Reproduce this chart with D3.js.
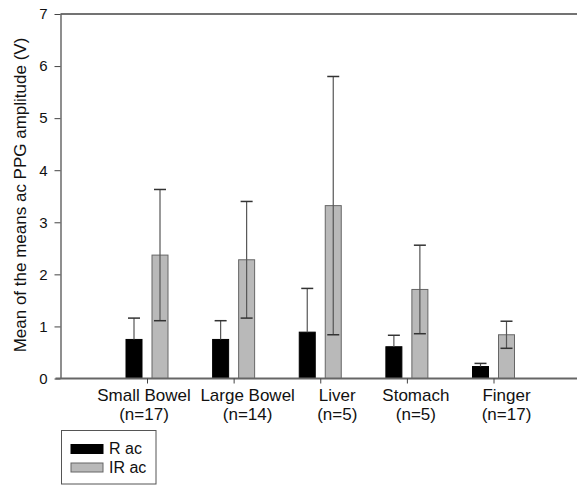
<!DOCTYPE html>
<html>
<head>
<meta charset="utf-8">
<script src="https://cdn.jsdelivr.net/npm/d3@7"></script>
<style>
  body { margin: 0; background: #fff; }
  text { font-family: "Liberation Sans", Arial, sans-serif; fill: #111; }
</style>
</head>
<body>
<div id="chart-area"></div>
<script>
// data
const sites = ["Small Bowel", "Large Bowel", "Liver", "Stomach", "Finger"];
const counts = ["(n=17)", "(n=14)", "(n=5)", "(n=5)", "(n=17)"];
const series = ["R ac", "IR ac"];
const rMean = [0.75, 0.75, 0.89, 0.61, 0.23];
const rErr = [0.41, 0.36, 0.84, 0.22, 0.06];
const irMean = [2.37, 2.28, 3.32, 1.71, 0.84];
const irErr = [1.26, 1.12, 2.48, 0.85, 0.26];
const yTicks = [0, 1, 2, 3, 4, 5, 6, 7];

// label block offsets (the original labels sit a bit off the ticks)
const labelShift = [-3, 14, 17, 9, 13];
const colours = ["#000000", "#b9b9b9"];

const W = 577, H = 486;
const plotLeft = 60.5, plotTop = 14, plotBottom = 378.5;

const svg = d3.select("#chart-area")
    .append("svg")
    .attr("width", W)
    .attr("height", H);

const x = d3.scalePoint().domain(sites).range([147, 493.5]);
const xs = d3.scaleBand().domain(series).range([-21, 21]).paddingInner(10 / 26);
const y = d3.scaleLinear().domain([0, 7]).range([plotBottom, plotTop]);

const rows = [];
sites.forEach((s, i) => {
    rows.push({ site: s, series: series[0], mean: rMean[i], err: rErr[i] });
    rows.push({ site: s, series: series[1], mean: irMean[i], err: irErr[i] });
});

// frame top line
svg.append("line")
    .attr("x1", plotLeft).attr("x2", W)
    .attr("y1", plotTop).attr("y2", plotTop)
    .attr("stroke", "#444").attr("stroke-width", 1.5);

// bars
svg.selectAll("rect.bar")
    .data(rows)
    .enter()
    .append("rect")
    .attr("class", "bar")
    .attr("x", d => x(d.site) + xs(d.series))
    .attr("y", d => y(d.mean))
    .attr("width", xs.bandwidth())
    .attr("height", d => y(0) - y(d.mean))
    .attr("fill", d => colours[series.indexOf(d.series)])
    .attr("stroke", d => d.series === series[0] ? "#000" : "#666")
    .attr("stroke-width", 1);

// error bars (the black bars hide their lower half)
const eb = svg.selectAll("g.err")
    .data(rows)
    .enter()
    .append("g")
    .attr("class", "err")
    .attr("transform", d => "translate(" + (x(d.site) + xs(d.series) + xs.bandwidth() / 2) + ",0)");

eb.append("line")
    .attr("y1", d => d.series === series[0] ? y(d.mean) : y(d.mean - d.err))
    .attr("y2", d => y(d.mean + d.err))
    .attr("stroke", "#555").attr("stroke-width", 1.2);
eb.append("line")
    .attr("x1", -6).attr("x2", 6)
    .attr("y1", d => y(d.mean + d.err)).attr("y2", d => y(d.mean + d.err))
    .attr("stroke", "#333").attr("stroke-width", 1.5);
eb.filter(d => d.series === series[1])
    .append("line")
    .attr("x1", -6).attr("x2", 6)
    .attr("y1", d => y(d.mean - d.err)).attr("y2", d => y(d.mean - d.err))
    .attr("stroke", "#333").attr("stroke-width", 1.5);

// y axis
const yAxis = svg.append("g")
    .attr("transform", "translate(" + plotLeft + ",0)")
    .call(d3.axisLeft(y).tickValues(yTicks).tickFormat(d3.format("d"))
        .tickSize(6).tickPadding(7).tickSizeOuter(0));
yAxis.select(".domain").attr("stroke", "#444").attr("stroke-width", 1.2);
yAxis.selectAll(".tick line").attr("stroke", "#444");
yAxis.selectAll("text")
    .attr("font-size", "15px")
    .attr("font-family", "Liberation Sans, Arial, sans-serif")
    .style("fill", "#111");

// x axis
const xAxis = svg.append("g")
    .attr("transform", "translate(0," + plotBottom + ")")
    .call(d3.axisBottom(x).tickSize(5).tickSizeOuter(0).tickFormat(""));
xAxis.select(".domain")
    .attr("d", "M" + (plotLeft - 5) + ",0H" + W)
    .attr("stroke", "#666").attr("stroke-width", 2);
xAxis.selectAll(".tick line").attr("stroke", "#444");

const xl = svg.selectAll("text.xlab")
    .data(sites)
    .enter()
    .append("text")
    .attr("class", "xlab")
    .attr("text-anchor", "middle")
    .attr("font-size", "17px")
    .attr("transform", (d, i) => "translate(" + (x(d) + labelShift[i]) + ",0)");
xl.append("tspan").attr("x", 0).attr("y", 401).text(d => d);
xl.append("tspan").attr("x", 0).attr("y", 420).text((d, i) => counts[i]);

// y title
svg.append("text")
    .attr("transform", "translate(26,195) rotate(-90)")
    .attr("text-anchor", "middle")
    .attr("font-size", "17px")
    .text("Mean of the means ac PPG amplitude (V)");

// legend
const lg = svg.append("g");
lg.append("rect")
    .attr("x", 61.5).attr("y", 430.5)
    .attr("width", 94.5).attr("height", 53.5)
    .attr("fill", "#fff").attr("stroke", "#555").attr("stroke-width", 1);
series.forEach((s, i) => {
    lg.append("rect")
        .attr("x", 71).attr("y", 444.5 + i * 18.5)
        .attr("width", 32).attr("height", 9)
        .attr("fill", colours[i])
        .attr("stroke", i === 0 ? "#000" : "#666");
    lg.append("text")
        .attr("x", 109).attr("y", 454 + i * 18.5)
        .attr("font-size", "16px")
        .text(s);
});
</script>
</body>
</html>
